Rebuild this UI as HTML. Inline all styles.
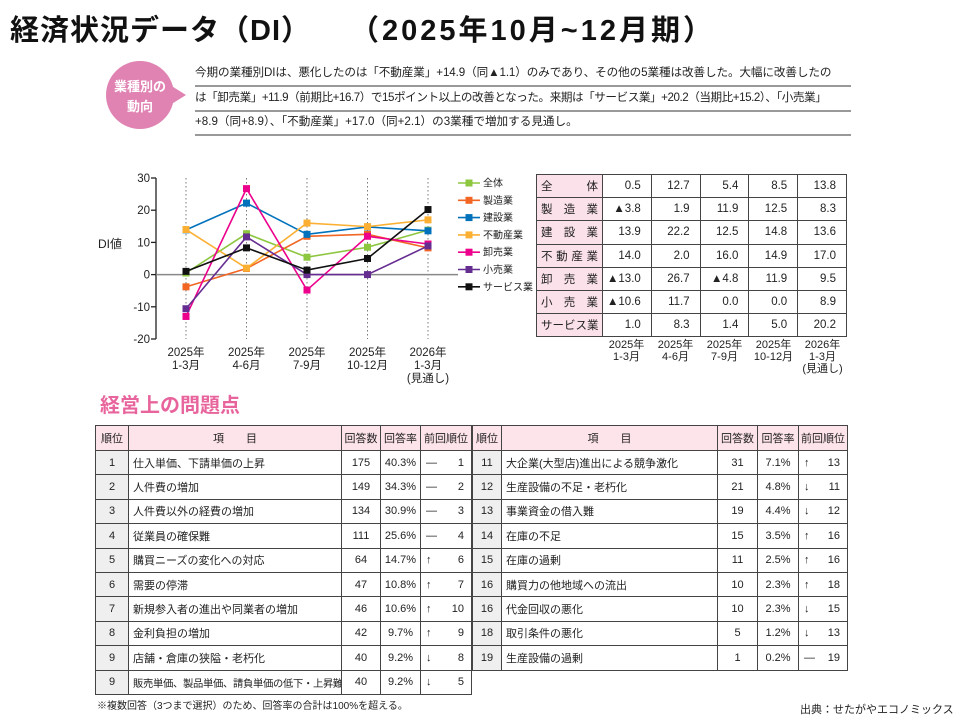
<!DOCTYPE html>
<html><head><meta charset="utf-8">
<style>
*{margin:0;padding:0;box-sizing:border-box}
body{width:960px;height:720px;background:#fff;position:relative;overflow:hidden;font-family:"Liberation Sans","Noto Sans CJK JP",sans-serif;color:#222}
.abs{position:absolute}
.title{top:7px;font-size:29px;font-weight:bold;white-space:nowrap;color:#111}
.tl{left:195px;font-size:11.6px;white-space:nowrap;height:25px;line-height:22px;border-bottom:2px solid #999;width:656px}
table{border-collapse:collapse;position:absolute;table-layout:fixed}
td,th{border:1px solid #444;font-weight:normal;white-space:nowrap;overflow:hidden}
#di td{height:23.2px;font-size:11.5px;text-align:right;padding-right:10px}
#di td.lb{background:#fbe1ea;text-align:justify;text-align-last:justify;padding:0 4px}
.rk th{background:#fde3ea;height:25px;font-size:11px;text-align:center}
.rk td{height:24.4px;font-size:11px;text-align:center}
.rk td.n{background:#efefef}
.rk td.it{text-align:left;padding-left:4px}
.rk td.pv{text-align:left;padding-left:5px}
.rk td.pv span{float:right;padding-right:7px}
</style></head><body>
<div class="abs title" style="left:10px;letter-spacing:1px">経済状況データ（DI）</div>
<div class="abs title" style="left:350px;letter-spacing:3px">（2025年10月~12月期）</div>

<svg class="abs" style="left:100px;top:58px" width="100" height="76">
<circle cx="40" cy="37" r="34" fill="#e083b3"/>
<polygon points="70,27 86,37 70,47" fill="#e083b3"/>
<text x="40" y="33" text-anchor="middle" font-size="13" font-weight="bold" fill="#fff" font-family="Liberation Sans, Noto Sans CJK JP, sans-serif">業種別の</text>
<text x="40" y="53" text-anchor="middle" font-size="13" font-weight="bold" fill="#fff" font-family="Liberation Sans, Noto Sans CJK JP, sans-serif">動向</text>
</svg>
<div class="abs tl" style="top:62px;letter-spacing:-0.1px">今期の業種別DIは、悪化したのは「不動産業」+14.9（同▲1.1）のみであり、その他の5業種は改善した。大幅に改善したの</div>
<div class="abs tl" style="top:87px;letter-spacing:-0.45px">は「卸売業」+11.9（前期比+16.7）で15ポイント以上の改善となった。来期は「サービス業」+20.2（当期比+15.2）、「小売業」</div>
<div class="abs tl" style="top:111px">+8.9（同+8.9）、「不動産業」+17.0（同+2.1）の3業種で増加する見通し。</div>

<svg id="chart" class="abs" style="left:0;top:0" width="540" height="400"></svg>

<table id="di" style="left:536px;top:174px;width:311px">
<colgroup><col style="width:66px"><col><col><col><col><col></colgroup>
<tr><td class="lb">全　体</td><td>0.5</td><td>12.7</td><td>5.4</td><td>8.5</td><td>13.8</td></tr>
<tr><td class="lb">製造業</td><td>▲3.8</td><td>1.9</td><td>11.9</td><td>12.5</td><td>8.3</td></tr>
<tr><td class="lb">建設業</td><td>13.9</td><td>22.2</td><td>12.5</td><td>14.8</td><td>13.6</td></tr>
<tr><td class="lb">不動産業</td><td>14.0</td><td>2.0</td><td>16.0</td><td>14.9</td><td>17.0</td></tr>
<tr><td class="lb">卸売業</td><td>▲13.0</td><td>26.7</td><td>▲4.8</td><td>11.9</td><td>9.5</td></tr>
<tr><td class="lb">小売業</td><td>▲10.6</td><td>11.7</td><td>0.0</td><td>0.0</td><td>8.9</td></tr>
<tr><td class="lb">サービス業</td><td>1.0</td><td>8.3</td><td>1.4</td><td>5.0</td><td>20.2</td></tr>
</table>
<div class="abs" style="left:602px;top:339px;width:245px;display:flex;font-size:11px;line-height:12px;text-align:center">
<div style="flex:1">2025年<br>1-3月</div><div style="flex:1">2025年<br>4-6月</div><div style="flex:1">2025年<br>7-9月</div><div style="flex:1">2025年<br>10-12月</div><div style="flex:1">2026年<br>1-3月<br>(見通し)</div>
</div>

<div class="abs" style="left:100px;top:389px;font-size:20px;font-weight:bold;color:#e8649c">経営上の問題点</div>

<table class="rk" style="left:95px;top:425px;width:377px">
<colgroup><col style="width:33px"><col style="width:213px"><col style="width:39px"><col style="width:40px"><col></colgroup>
<tr><th>順位</th><th>項　　目</th><th>回答数</th><th>回答率</th><th>前回順位</th></tr>
<tr><td class="n">1</td><td class="it">仕入単価、下請単価の上昇</td><td>175</td><td>40.3%</td><td class="pv">—<span>1</span></td></tr>
<tr><td class="n">2</td><td class="it">人件費の増加</td><td>149</td><td>34.3%</td><td class="pv">—<span>2</span></td></tr>
<tr><td class="n">3</td><td class="it">人件費以外の経費の増加</td><td>134</td><td>30.9%</td><td class="pv">—<span>3</span></td></tr>
<tr><td class="n">4</td><td class="it">従業員の確保難</td><td>111</td><td>25.6%</td><td class="pv">—<span>4</span></td></tr>
<tr><td class="n">5</td><td class="it">購買ニーズの変化への対応</td><td>64</td><td>14.7%</td><td class="pv">↑<span>6</span></td></tr>
<tr><td class="n">6</td><td class="it">需要の停滞</td><td>47</td><td>10.8%</td><td class="pv">↑<span>7</span></td></tr>
<tr><td class="n">7</td><td class="it">新規参入者の進出や同業者の増加</td><td>46</td><td>10.6%</td><td class="pv">↑<span>10</span></td></tr>
<tr><td class="n">8</td><td class="it">金利負担の増加</td><td>42</td><td>9.7%</td><td class="pv">↑<span>9</span></td></tr>
<tr><td class="n">9</td><td class="it">店舗・倉庫の狭隘・老朽化</td><td>40</td><td>9.2%</td><td class="pv">↓<span>8</span></td></tr>
<tr><td class="n">9</td><td class="it" style="font-size:10.3px;letter-spacing:-0.3px">販売単価、製品単価、請負単価の低下・上昇難</td><td>40</td><td>9.2%</td><td class="pv">↓<span>5</span></td></tr>
</table>

<table class="rk" style="left:472px;top:425px;width:376px">
<colgroup><col style="width:29px"><col style="width:216px"><col style="width:40px"><col style="width:41px"><col></colgroup>
<tr><th>順位</th><th>項　　目</th><th>回答数</th><th>回答率</th><th>前回順位</th></tr>
<tr><td class="n">11</td><td class="it">大企業(大型店)進出による競争激化</td><td>31</td><td>7.1%</td><td class="pv">↑<span>13</span></td></tr>
<tr><td class="n">12</td><td class="it">生産設備の不足・老朽化</td><td>21</td><td>4.8%</td><td class="pv">↓<span>11</span></td></tr>
<tr><td class="n">13</td><td class="it">事業資金の借入難</td><td>19</td><td>4.4%</td><td class="pv">↓<span>12</span></td></tr>
<tr><td class="n">14</td><td class="it">在庫の不足</td><td>15</td><td>3.5%</td><td class="pv">↑<span>16</span></td></tr>
<tr><td class="n">15</td><td class="it">在庫の過剰</td><td>11</td><td>2.5%</td><td class="pv">↑<span>16</span></td></tr>
<tr><td class="n">16</td><td class="it">購買力の他地域への流出</td><td>10</td><td>2.3%</td><td class="pv">↑<span>18</span></td></tr>
<tr><td class="n">16</td><td class="it">代金回収の悪化</td><td>10</td><td>2.3%</td><td class="pv">↓<span>15</span></td></tr>
<tr><td class="n">18</td><td class="it">取引条件の悪化</td><td>5</td><td>1.2%</td><td class="pv">↓<span>13</span></td></tr>
<tr><td class="n">19</td><td class="it">生産設備の過剰</td><td>1</td><td>0.2%</td><td class="pv">—<span>19</span></td></tr>
</table>

<div class="abs" style="left:97px;top:697px;font-size:10px">※複数回答（3つまで選択）のため、回答率の合計は100%を超える。</div>
<div class="abs" style="left:800px;top:701px;font-size:11px">出典：せたがやエコノミックス</div>

<script>
const categories = ["2025年\n1-3月","2025年\n4-6月","2025年\n7-9月","2025年\n10-12月","2026年\n1-3月\n(見通し)"];
const seriesNames = ["全体","製造業","建設業","不動産業","卸売業","小売業","サービス業"];
const seriesColors = ["#8dc63f","#f26522","#0072bc","#fbb034","#ec008c","#662d91","#111111"];
const sAll = [0.5,12.7,5.4,8.5,13.8];
const sMfg = [-3.8,1.9,11.9,12.5,8.3];
const sCon = [13.9,22.2,12.5,14.8,13.6];
const sRe = [14.0,2.0,16.0,14.9,17.0];
const sWh = [-13.0,26.7,-4.8,11.9,9.5];
const sRt = [-10.6,11.7,0.0,0.0,8.9];
const sSv = [1.0,8.3,1.4,5.0,20.2];
const yTicks = [30,20,10,0,-10,-20];

const NS="http://www.w3.org/2000/svg";
const svg=document.getElementById('chart');
const allSeries=[sAll,sMfg,sCon,sRe,sWh,sRt,sSv];
const x0=186, dx=60.5, yTop=178, yBot=339, vMax=30, vMin=-20;
const xs=i=>x0+i*dx;
const ys=v=>yTop+(vMax-v)/(vMax-vMin)*(yBot-yTop);
function mk(t,a,p){const e=document.createElementNS(NS,t);for(const k in a)e.setAttribute(k,a[k]);(p||svg).appendChild(e);return e;}
const F="Liberation Sans, Noto Sans CJK JP, sans-serif";
categories.forEach((c,i)=>{
  const l=mk('line',{x1:xs(i),x2:xs(i),y1:yTop,y2:yBot,stroke:'#777','stroke-dasharray':'1.5,2.5','stroke-width':1});
  
  
  c.split('\n').forEach((s,j)=>{
    const t=mk('text',{x:xs(i),y:356+j*13,'text-anchor':'middle','font-size':11.5,'font-family':F,fill:'#222'});
    t.textContent=s;
    
    
  });
});
const ax=mk('line',{x1:156,x2:156,y1:yTop,y2:yBot,stroke:'#222','stroke-width':1.3});


yTicks.forEach(v=>{
  mk('line',{x1:151,x2:156,y1:ys(v),y2:ys(v),stroke:'#222','stroke-width':1.3});
  const t=mk('text',{x:150,y:ys(v)+4,'text-anchor':'end','font-size':11.5,'font-family':F,fill:'#222'});
  t.textContent=v;
  
  
});
const zl=mk('line',{x1:156,x2:458,y1:ys(0),y2:ys(0),stroke:'#888','stroke-width':1.5});


const yt=mk('text',{x:98,y:248,'font-size':12,'font-family':F,fill:'#222'});
yt.textContent='DI値';


allSeries.forEach((arr,si)=>{
  const g=mk('g',{});
  
  
  mk('polyline',{points:arr.map((v,i)=>xs(i)+','+ys(v)).join(' '),fill:'none',stroke:seriesColors[si],'stroke-width':1.6},g);
  arr.forEach((v,i)=>{
    const m=mk('rect',{x:xs(i)-3.5,y:ys(v)-3.5,width:7,height:7,fill:seriesColors[si]},g);
    
    
  });
  const ly=183+si*17.3;
  const lg=mk('g',{});
  
  
  mk('line',{x1:458,x2:480,y1:ly,y2:ly,stroke:seriesColors[si],'stroke-width':1.6},lg);
  mk('rect',{x:465.5,y:ly-3.5,width:7,height:7,fill:seriesColors[si]},lg);
  const t=mk('text',{x:483,y:ly+3.5,'font-size':10,'font-family':F,fill:'#222'},lg);
  t.textContent=seriesNames[si];
});
</script>
</body></html>
